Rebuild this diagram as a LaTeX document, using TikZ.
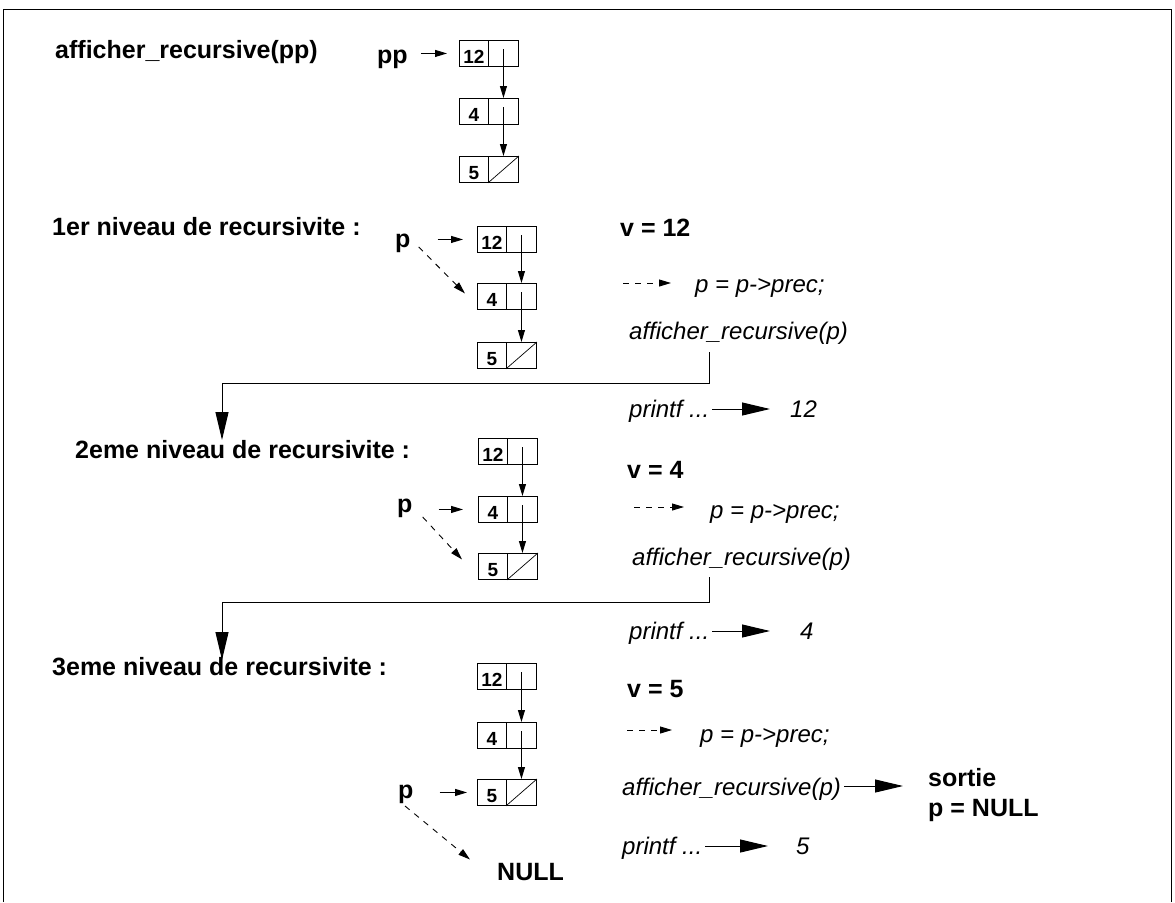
\documentclass[tikz,border=0pt]{standalone}
\usepackage{fontspec}
\setmainfont{Liberation Sans}
\usetikzlibrary{arrows.meta}
\tikzset{
 lbl/.style={font=\fontsize{25}{29}\selectfont\bfseries, inner sep=0pt, anchor=base west},
 code/.style={font=\fontsize{24}{28}\selectfont\itshape, inner sep=0pt, anchor=base west},
 cell/.style={draw, line width=0.9pt, minimum height=26pt, inner sep=0pt, anchor=north west},
 digit/.style={font=\fontsize{19}{21}\selectfont\bfseries, inner sep=0pt, anchor=base},
 ptr/.style={line width=0.9pt, -{Triangle[length=12pt,width=7pt]}},
 dptr/.style={ptr, dash pattern=on 6pt off 6pt},
 big/.style={line width=1pt, -{Triangle[length=28pt,width=13pt]}},
}
\newcommand\llbox[4]{%
 \node[cell, minimum width=29pt] (#1l) at (#2,#3) {};
 \node[cell, minimum width=30pt] (#1r) at (#2+29,#3) {};
 \node[digit] (#1d) at ([yshift=3.5pt]#1l.south) {#4};
}
\begin{document}
\begin{tikzpicture}[x=1pt,y=-1pt]
\useasboundingbox (0,0) rectangle (1175,902);
\draw[line width=0.9pt] (3,902) -- (3,9) -- (1171,9) -- (1171,902);

% ---- section 0
\node[lbl] (title) at (55,58) {afficher\_recursive(pp)};
\node[lbl] (pp) at (377,63) {pp};
\llbox{a1}{459}{40}{12}
\llbox{a2}{459}{98}{4}
\llbox{a3}{459}{156}{5}
\draw[line width=0.7pt] (a3r.south west) -- (a3r.north east);
\draw[ptr] ([xshift=13pt]pp.east |- a1l.west) -- ([xshift=-12pt]a1l.west);
\draw[ptr] ([yshift=4pt]a1r.center) -- (a2r.north);
\draw[ptr] ([yshift=4pt]a2r.center) -- (a3r.north);

% ---- section 1
\node[lbl] (n1) at (52,235) {1er niveau de recursivite :};
\node[lbl] (p1) at (395,247) {p};
\llbox{b1}{477}{226}{12}
\llbox{b2}{477}{283}{4}
\llbox{b3}{477}{342}{5}
\draw[line width=0.7pt] (b3r.south west) -- (b3r.north east);
\draw[ptr] ([xshift=27pt]p1.east |- b1l.west) -- ([xshift=-14pt]b1l.west);
\draw[ptr] ([yshift=4pt]b1r.center) -- (b2r.north);
\draw[ptr] ([yshift=4pt]b2r.center) -- (b3r.north);
\draw[dptr] ([xshift=8pt]p1.base east) -- ([shift={(-12pt,3pt)}]b2l.west);

\node[lbl] (v1) at (620,236) {v = 12};
\coordinate (d1) at (623,283);
\node[code] (prec1) at (695,292) {p = p->prec;};
\draw[dptr] (d1) -- ([xshift=-24pt]d1 -| prec1.west);
\node[code] (aff1) at (629,339) {afficher\_recursive(p)};
\coordinate (c1a) at (709,352);
\coordinate (c1b) at (222,440);
\draw[big] (c1a) -- ++(0,31) -| (c1b);
\node[code] (pr1) at (629,417) {printf ...};
\node[code] (o1) at (790,417) {12};
\coordinate (y1) at (0,409);
\draw[big] ([xshift=3pt]pr1.east |- y1) -- ([xshift=-20pt]o1.west |- y1);

% ---- section 2
\node[lbl] (n2) at (75,458) {2eme niveau de recursivite :};
\node[lbl] (p2) at (397,512) {p};
\llbox{e1}{478}{438}{12}
\llbox{e2}{478}{496}{4}
\llbox{e3}{478}{553}{5}
\draw[line width=0.7pt] (e3r.south west) -- (e3r.north east);
\draw[ptr] ([xshift=26pt]p2.east |- e2l.west) -- ([xshift=-15pt]e2l.west);
\draw[ptr] ([yshift=4pt]e1r.center) -- (e2r.north);
\draw[ptr] ([yshift=4pt]e2r.center) -- (e3r.north);
\draw[dptr] ([shift={(10pt,-5pt)}]p2.base east) -- ([shift={(-16pt,7pt)}]e3l.west);

\node[lbl] (v2) at (627,478) {v = 4};
\coordinate (d2) at (634,507);
\node[code] (prec2) at (710,518) {p = p->prec;};
\draw[dptr] (d2) -- ([xshift=-26pt]d2 -| prec2.west);
\node[code] (aff2) at (632,565) {afficher\_recursive(p)};
\coordinate (c2a) at (709,577);
\coordinate (c2b) at (222,660);
\draw[big] (c2a) -- ++(0,25) -| (c2b);
\node[code] (pr2) at (629,639) {printf ...};
\node[code] (o2) at (800,639) {4};
\coordinate (y2) at (0,631);
\draw[big] ([xshift=3pt]pr2.east |- y2) -- ([xshift=-30pt]o2.west |- y2);

% ---- section 3
\node[lbl] (n3) at (52,675) {3eme niveau de recursivite :};
\node[lbl] (p3) at (398,798) {p};
\llbox{f1}{477}{663}{12}
\llbox{f2}{477}{722}{4}
\llbox{f3}{477}{779}{5}
\draw[line width=0.7pt] (f3r.south west) -- (f3r.north east);
\draw[ptr] ([xshift=26pt]p3.east |- f3l.west) -- ([xshift=-10pt]f3l.west);
\draw[ptr] ([yshift=4pt]f1r.center) -- (f2r.north);
\draw[ptr] ([yshift=4pt]f2r.center) -- (f3r.north);
\node[lbl] (null) at (497,880) {NULL};
\draw[dptr] ([shift={(7pt,-8pt)}]p3.base west) -- ([shift={(-27pt,12pt)}]null.west);

\node[lbl] (v3) at (627,697) {v = 5};
\coordinate (d3) at (627,730);
\node[code] (prec3) at (700,742) {p = p->prec;};
\draw[dptr] (d3) -- ([xshift=-28pt]d3 -| prec3.west);
\node[code] (aff3) at (622,795) {afficher\_recursive(p)};
\node[lbl] (sortie) at (928,786) {sortie};
\node[lbl] (pnull) at (928,816) {p = NULL};
\coordinate (y3) at (0,786);
\draw[big] ([xshift=3pt]aff3.east |- y3) -- ([xshift=-25pt]sortie.west |- y3);
\node[code] (pr3) at (622,854) {printf ...};
\node[code] (o3) at (796,854) {5};
\coordinate (y4) at (0,846);
\draw[big] ([xshift=3pt]pr3.east |- y4) -- ([xshift=-28pt]o3.west |- y4);
\end{tikzpicture}
\end{document}
